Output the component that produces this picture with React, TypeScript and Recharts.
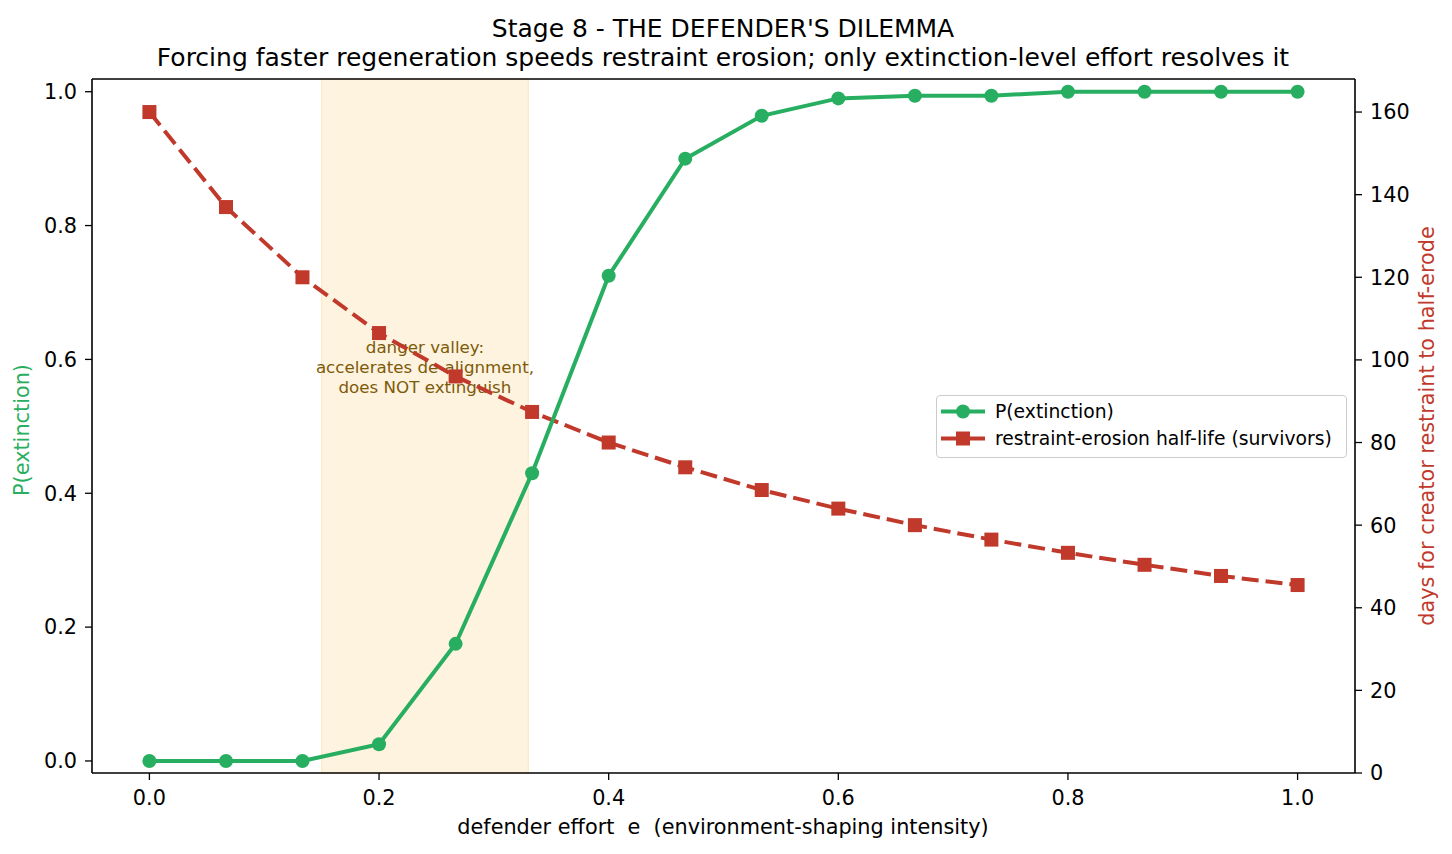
import {
  ComposedChart,
  Line,
  XAxis,
  YAxis,
  ReferenceArea,
} from "recharts";

const efforts = [
  0, 0.0667, 0.1333, 0.2, 0.2667, 0.3333, 0.4, 0.4667, 0.5333, 0.6, 0.6667,
  0.7333, 0.8, 0.8667, 0.9333, 1.0,
];
const pExtinction = [
  0, 0, 0, 0.025, 0.175, 0.43, 0.725, 0.9, 0.964, 0.99, 0.994, 0.994, 1.0,
  1.0, 1.0, 1.0,
];
const halfLife = [
  160, 137, 120, 106.5, 96, 87.4, 80, 74, 68.5, 64, 60, 56.5, 53.3, 50.4, 47.7,
  45.5,
];
const xTicks = [0, 0.2, 0.4, 0.6, 0.8, 1.0];
const leftTicks = [0, 0.2, 0.4, 0.6, 0.8, 1.0];
const rightTicks = [0, 20, 40, 60, 80, 100, 120, 140, 160];
const valleyRange = [0.15, 0.33];
const valleyLines = [
  "danger valley:",
  "accelerates de-alignment,",
  "does NOT extinguish",
];

const GREEN = "#27ae60";
const RED = "#c0392b";
const FONT = "'DejaVu Sans', sans-serif";

const data = efforts.map((e, i) => ({
  e,
  p: pExtinction[i],
  h: halfLife[i],
}));

const tickStyle = { fill: "#000", fontSize: 20.8, fontFamily: FONT };

const SquareDot = (props: any) => {
  const { cx, cy, index } = props;
  if (cx == null || cy == null) return null;
  return (
    <rect key={"sq" + index} x={cx - 7} y={cy - 7} width={14} height={14} fill={RED} />
  );
};

const ValleyLabel = (props: any) => {
  const vb = props.viewBox || {};
  const cx = vb.x + vb.width / 2;
  return (
    <text textAnchor="middle" fill="#7d5a0a" fontSize={16.7} fontFamily={FONT}>
      {valleyLines.map((t, i) => (
        <tspan key={i} x={cx} y={353 + i * 20}>
          {t}
        </tspan>
      ))}
    </text>
  );
};

const LegendBox = () => (
  <div
    style={{
      position: "absolute",
      left: 936,
      top: 395,
      width: 411,
      height: 63,
      border: "1.5px solid #cccccc",
      borderRadius: 4,
      background: "rgba(255,255,255,0.85)",
      fontFamily: FONT,
      fontSize: 18.75,
      lineHeight: "22px",
      boxSizing: "border-box",
    }}
  >
    <svg width={50} height={60} style={{ position: "absolute", left: 2, top: 0 }}>
      <line x1={2} y1={15.5} x2={46} y2={15.5} stroke={GREEN} strokeWidth={4} />
      <circle cx={24} cy={15.5} r={7} fill={GREEN} />
      <line x1={2} y1={42.5} x2={46} y2={42.5} stroke={RED} strokeWidth={4} />
      <rect x={17} y={35.5} width={14} height={14} fill={RED} />
    </svg>
    <div style={{ position: "absolute", left: 58, top: 4.5 }}>P(extinction)</div>
    <div style={{ position: "absolute", left: 58, top: 31.5, whiteSpace: "nowrap" }}>
      restraint-erosion half-life (survivors)
    </div>
  </div>
);

export default function App() {
  return (
    <div
      style={{
        position: "absolute",
        left: 0,
        top: 0,
        width: 1452,
        height: 854,
        background: "#fff",
        fontFamily: FONT,
      }}
    >
      <div
        style={{
          position: "absolute",
          left: 0,
          width: 1446,
          top: 14,
          textAlign: "center",
          fontSize: 25,
          lineHeight: "29px",
          color: "#000",
          whiteSpace: "nowrap",
        }}
      >
        <div>Stage 8 - THE DEFENDER'S DILEMMA</div>
        <div>
          Forcing faster regeneration speeds restraint erosion; only
          extinction-level effort resolves it
        </div>
      </div>
      <ComposedChart
        width={1452}
        height={854}
        data={data}
        margin={{ top: 78, right: 40, bottom: 41, left: 20 }}
      >
        <XAxis
          xAxisId="bottom"
          dataKey="e"
          type="number"
          domain={[-0.05, 1.05]}
          ticks={xTicks}
          tickFormatter={(v: number) => v.toFixed(1)}
          tick={tickStyle}
          tickSize={7}
          tickMargin={10}
          height={40}
          tickLine={{ stroke: "#000", strokeWidth: 1.3 }}
          axisLine={{ stroke: "#000", strokeWidth: 1.6 }}
          allowDataOverflow
        />
        <XAxis
          xAxisId="top"
          orientation="top"
          dataKey="e"
          type="number"
          domain={[-0.05, 1.05]}
          ticks={xTicks}
          tick={false}
          tickLine={false}
          height={1}
          axisLine={{ stroke: "#000", strokeWidth: 1.6 }}
          allowDataOverflow
        />
        <YAxis
          yAxisId="left"
          type="number"
          domain={[-0.018, 1.019]}
          ticks={leftTicks}
          tickFormatter={(v: number) => v.toFixed(1)}
          tick={tickStyle}
          tickSize={7}
          tickMargin={8}
          width={72}
          tickLine={{ stroke: "#000", strokeWidth: 1.3 }}
          axisLine={{ stroke: "#000", strokeWidth: 1.6 }}
          allowDataOverflow
        />
        <YAxis
          yAxisId="right"
          orientation="right"
          type="number"
          domain={[0, 168]}
          ticks={rightTicks}
          tick={tickStyle}
          tickSize={7}
          tickMargin={8}
          width={57}
          tickLine={{ stroke: "#000", strokeWidth: 1.3 }}
          axisLine={{ stroke: "#000", strokeWidth: 1.6 }}
          allowDataOverflow
        />
        <ReferenceArea
          xAxisId="bottom"
          yAxisId="left"
          x1={valleyRange[0]}
          x2={valleyRange[1]}
          fill="#fef3de"
          fillOpacity={1}
          stroke="#fce6c2"
          strokeWidth={1}
          label={<ValleyLabel />}
        />
        <Line
          xAxisId="bottom"
          yAxisId="right"
          dataKey="h"
          name="restraint-erosion half-life (survivors)"
          stroke={RED}
          strokeWidth={4}
          strokeDasharray="17 7"
          dot={<SquareDot />}
          activeDot={false}
          isAnimationActive={false}
        />
        <Line
          xAxisId="bottom"
          yAxisId="left"
          dataKey="p"
          name="P(extinction)"
          stroke={GREEN}
          strokeWidth={4}
          dot={{ r: 7, fill: GREEN, stroke: GREEN, strokeWidth: 0 }}
          activeDot={false}
          isAnimationActive={false}
        />
      </ComposedChart>
      <LegendBox />
      <div
        style={{
          position: "absolute",
          left: 0,
          width: 1446,
          top: 815,
          textAlign: "center",
          fontSize: 20.8,
          lineHeight: "25px",
          color: "#000",
          whiteSpace: "pre",
        }}
      >
        {"defender effort  e  (environment-shaping intensity)"}
      </div>
      <div
        style={{
          position: "absolute",
          left: 22,
          top: 430,
          transform: "translate(-50%, -50%) rotate(-90deg)",
          fontSize: 20.8,
          color: GREEN,
          whiteSpace: "nowrap",
        }}
      >
        P(extinction)
      </div>
      <div
        style={{
          position: "absolute",
          left: 1427,
          top: 426,
          transform: "translate(-50%, -50%) rotate(-90deg)",
          fontSize: 20.8,
          color: RED,
          whiteSpace: "nowrap",
        }}
      >
        days for creator restraint to half-erode
      </div>
    </div>
  );
}
